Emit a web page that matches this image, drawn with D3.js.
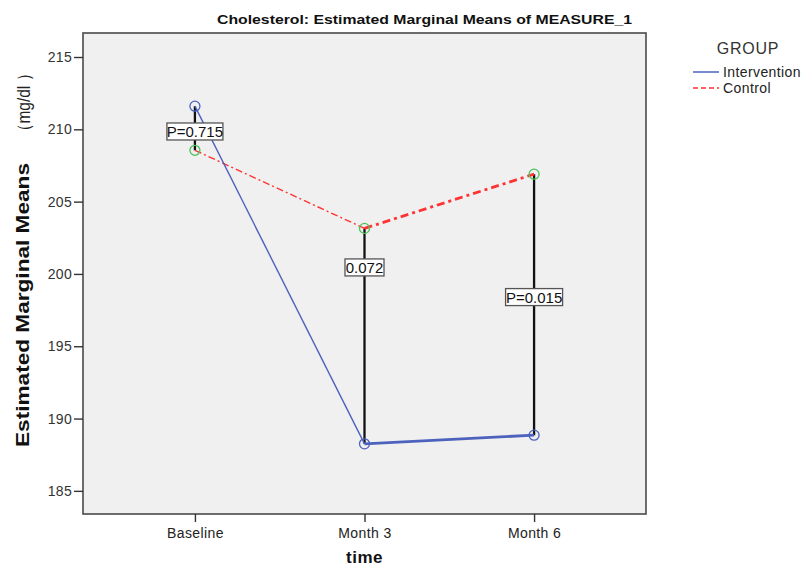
<!DOCTYPE html>
<html>
<head>
<meta charset="utf-8">
<script src="https://cdn.jsdelivr.net/npm/d3@7"></script>
<style>
  html, body { margin: 0; padding: 0; background: #fff; }
  svg { display: block; }
  text { font-family: "Liberation Sans", Arial, sans-serif; }
</style>
</head>
<body>
<svg id="chart" width="805" height="567"></svg>
<script>
// Estimated marginal means of cholesterol by time point and group
const timePoints = ["Baseline", "Month 3", "Month 6"];
const interventionMeans = [211.6, 188.25, 188.85];
const controlMeans = [208.55, 203.15, 206.9];
const yTicks = [185, 190, 195, 200, 205, 210, 215];
// p-value annotations between groups, and the mean level where each box sits
const pLabels = ["P=0.715", "0.072", "P=0.015"];
const pLabelLevel = [209.85, 200.45, 198.4];

const svg = d3.select("#chart");
const plot = { left: 83, right: 646, top: 33, bottom: 514 };

const x = d3.scalePoint()
  .domain(timePoints)
  .range([plot.left, plot.right])
  .padding(0.66);

const y = d3.scaleLinear()
  .domain([183.4, 216.66])
  .range([plot.bottom, plot.top]);

// plot background
svg.append("rect")
  .attr("x", plot.left).attr("y", plot.top)
  .attr("width", plot.right - plot.left).attr("height", plot.bottom - plot.top)
  .attr("fill", "#f0f0f0")
  .attr("stroke", "#4a4a4a").attr("stroke-width", 1.6);

// axes
const yAxis = svg.append("g")
  .attr("transform", `translate(${plot.left},0)`)
  .call(d3.axisLeft(y).tickValues(yTicks).tickSize(9).tickPadding(2).tickFormat(d3.format("d")));
yAxis.select(".domain").remove();
yAxis.selectAll(".tick line").attr("stroke", "#333").attr("stroke-width", 1.4);
yAxis.selectAll(".tick text").attr("fill", "#333").attr("font-size", 14)
  .style("letter-spacing", "0.3px")
  .style("font-family", "'Liberation Sans', Arial, sans-serif");

const xAxis = svg.append("g")
  .attr("transform", `translate(0,${plot.bottom})`)
  .call(d3.axisBottom(x).tickSize(8).tickPadding(6));
xAxis.select(".domain").remove();
xAxis.selectAll(".tick line").attr("stroke", "#333").attr("stroke-width", 1.4);
xAxis.selectAll(".tick text").attr("fill", "#222").attr("font-size", 14)
  .style("letter-spacing", "0.4px")
  .style("font-family", "'Liberation Sans', Arial, sans-serif");

// title
svg.append("text")
  .attr("x", 217).attr("y", 24)
  .attr("font-size", 13).attr("font-weight", "bold").attr("fill", "#111")
  .attr("textLength", 415).attr("lengthAdjust", "spacingAndGlyphs")
  .text("Cholesterol: Estimated Marginal Means of MEASURE_1");

// axis titles
svg.append("text")
  .attr("transform", "translate(29,447) rotate(-90)")
  .attr("font-size", 18).attr("font-weight", "bold").attr("fill", "#111")
  .attr("textLength", 284).attr("lengthAdjust", "spacingAndGlyphs")
  .text("Estimated Marginal Means");
svg.append("text")
  .attr("transform", "translate(30,139) rotate(-90)")
  .attr("font-size", 18).attr("fill", "#222")
  .attr("textLength", 73).attr("lengthAdjust", "spacingAndGlyphs")
  .text("（mg/dl ）");

svg.append("text")
  .attr("x", x("Month 3")).attr("y", 563)
  .attr("text-anchor", "middle")
  .attr("font-size", 17).attr("font-weight", "bold").attr("fill", "#111")
  .style("letter-spacing", "0.5px")
  .text("time");

// vertical connectors between group means
timePoints.forEach((t, i) => {
  svg.append("line")
    .attr("x1", x(t)).attr("x2", x(t))
    .attr("y1", y(interventionMeans[i])).attr("y2", y(controlMeans[i]))
    .attr("stroke", "#111").attr("stroke-width", 2.3);
});

const blue = "#4d62bd";
const red = "#ff3333";
const green = "#4cc25a";

// group lines: first segment thin, second segment heavier
function drawSeries(values, color, dash) {
  const pts = timePoints.map((t, i) => [x(t), y(values[i])]);
  const widths = [1.4, 2.8];
  for (let i = 0; i < pts.length - 1; i++) {
    svg.append("path")
      .attr("d", d3.line()([pts[i], pts[i + 1]]))
      .attr("fill", "none")
      .attr("stroke", color)
      .attr("stroke-width", widths[i])
      .attr("stroke-dasharray", dash ? (i === 0 ? "7,3,2,3" : "8,4,3,4") : null);
  }
}
drawSeries(controlMeans, red, true);
drawSeries(interventionMeans, blue, false);

// markers
svg.selectAll(".mi").data(interventionMeans).enter().append("circle")
  .attr("cx", (d, i) => x(timePoints[i])).attr("cy", d => y(d))
  .attr("r", 5).attr("fill", "none").attr("stroke", blue).attr("stroke-width", 1.3);
svg.selectAll(".mc").data(controlMeans).enter().append("circle")
  .attr("cx", (d, i) => x(timePoints[i])).attr("cy", d => y(d))
  .attr("r", 5).attr("fill", "none").attr("stroke", green).attr("stroke-width", 1.3);

// p-value boxes
const boxWidths = [56, 39, 57];
timePoints.forEach((t, i) => {
  const cx = x(t), cy = y(pLabelLevel[i]);
  const g = svg.append("g");
  g.append("rect")
    .attr("x", cx - boxWidths[i] / 2).attr("y", cy - 8.5)
    .attr("width", boxWidths[i]).attr("height", 17)
    .attr("fill", "#fff").attr("stroke", "#555").attr("stroke-width", 1.3);
  g.append("text")
    .attr("x", cx).attr("y", cy + 5.5)
    .attr("text-anchor", "middle")
    .attr("font-size", 15).attr("fill", "#111")
    .text(pLabels[i]);
});

// legend
const legend = svg.append("g");
legend.append("text")
  .attr("x", 748).attr("y", 54).attr("text-anchor", "middle")
  .attr("font-size", 16).attr("fill", "#333")
  .style("letter-spacing", "0.8px")
  .text("GROUP");
const legendItems = [
  { name: "Intervention", color: blue, dash: null },
  { name: "Control", color: red, dash: "5,3" }
];
legendItems.forEach((d, i) => {
  const ly = 72 + i * 16;
  legend.append("line")
    .attr("x1", 693).attr("x2", 719).attr("y1", ly).attr("y2", ly)
    .attr("stroke", d.color).attr("stroke-width", 1.5)
    .attr("stroke-dasharray", d.dash);
  legend.append("text")
    .attr("x", 723).attr("y", ly + 5)
    .attr("font-size", 14).attr("fill", "#222")
    .style("letter-spacing", "0.4px")
    .text(d.name);
});
</script>
</body>
</html>
